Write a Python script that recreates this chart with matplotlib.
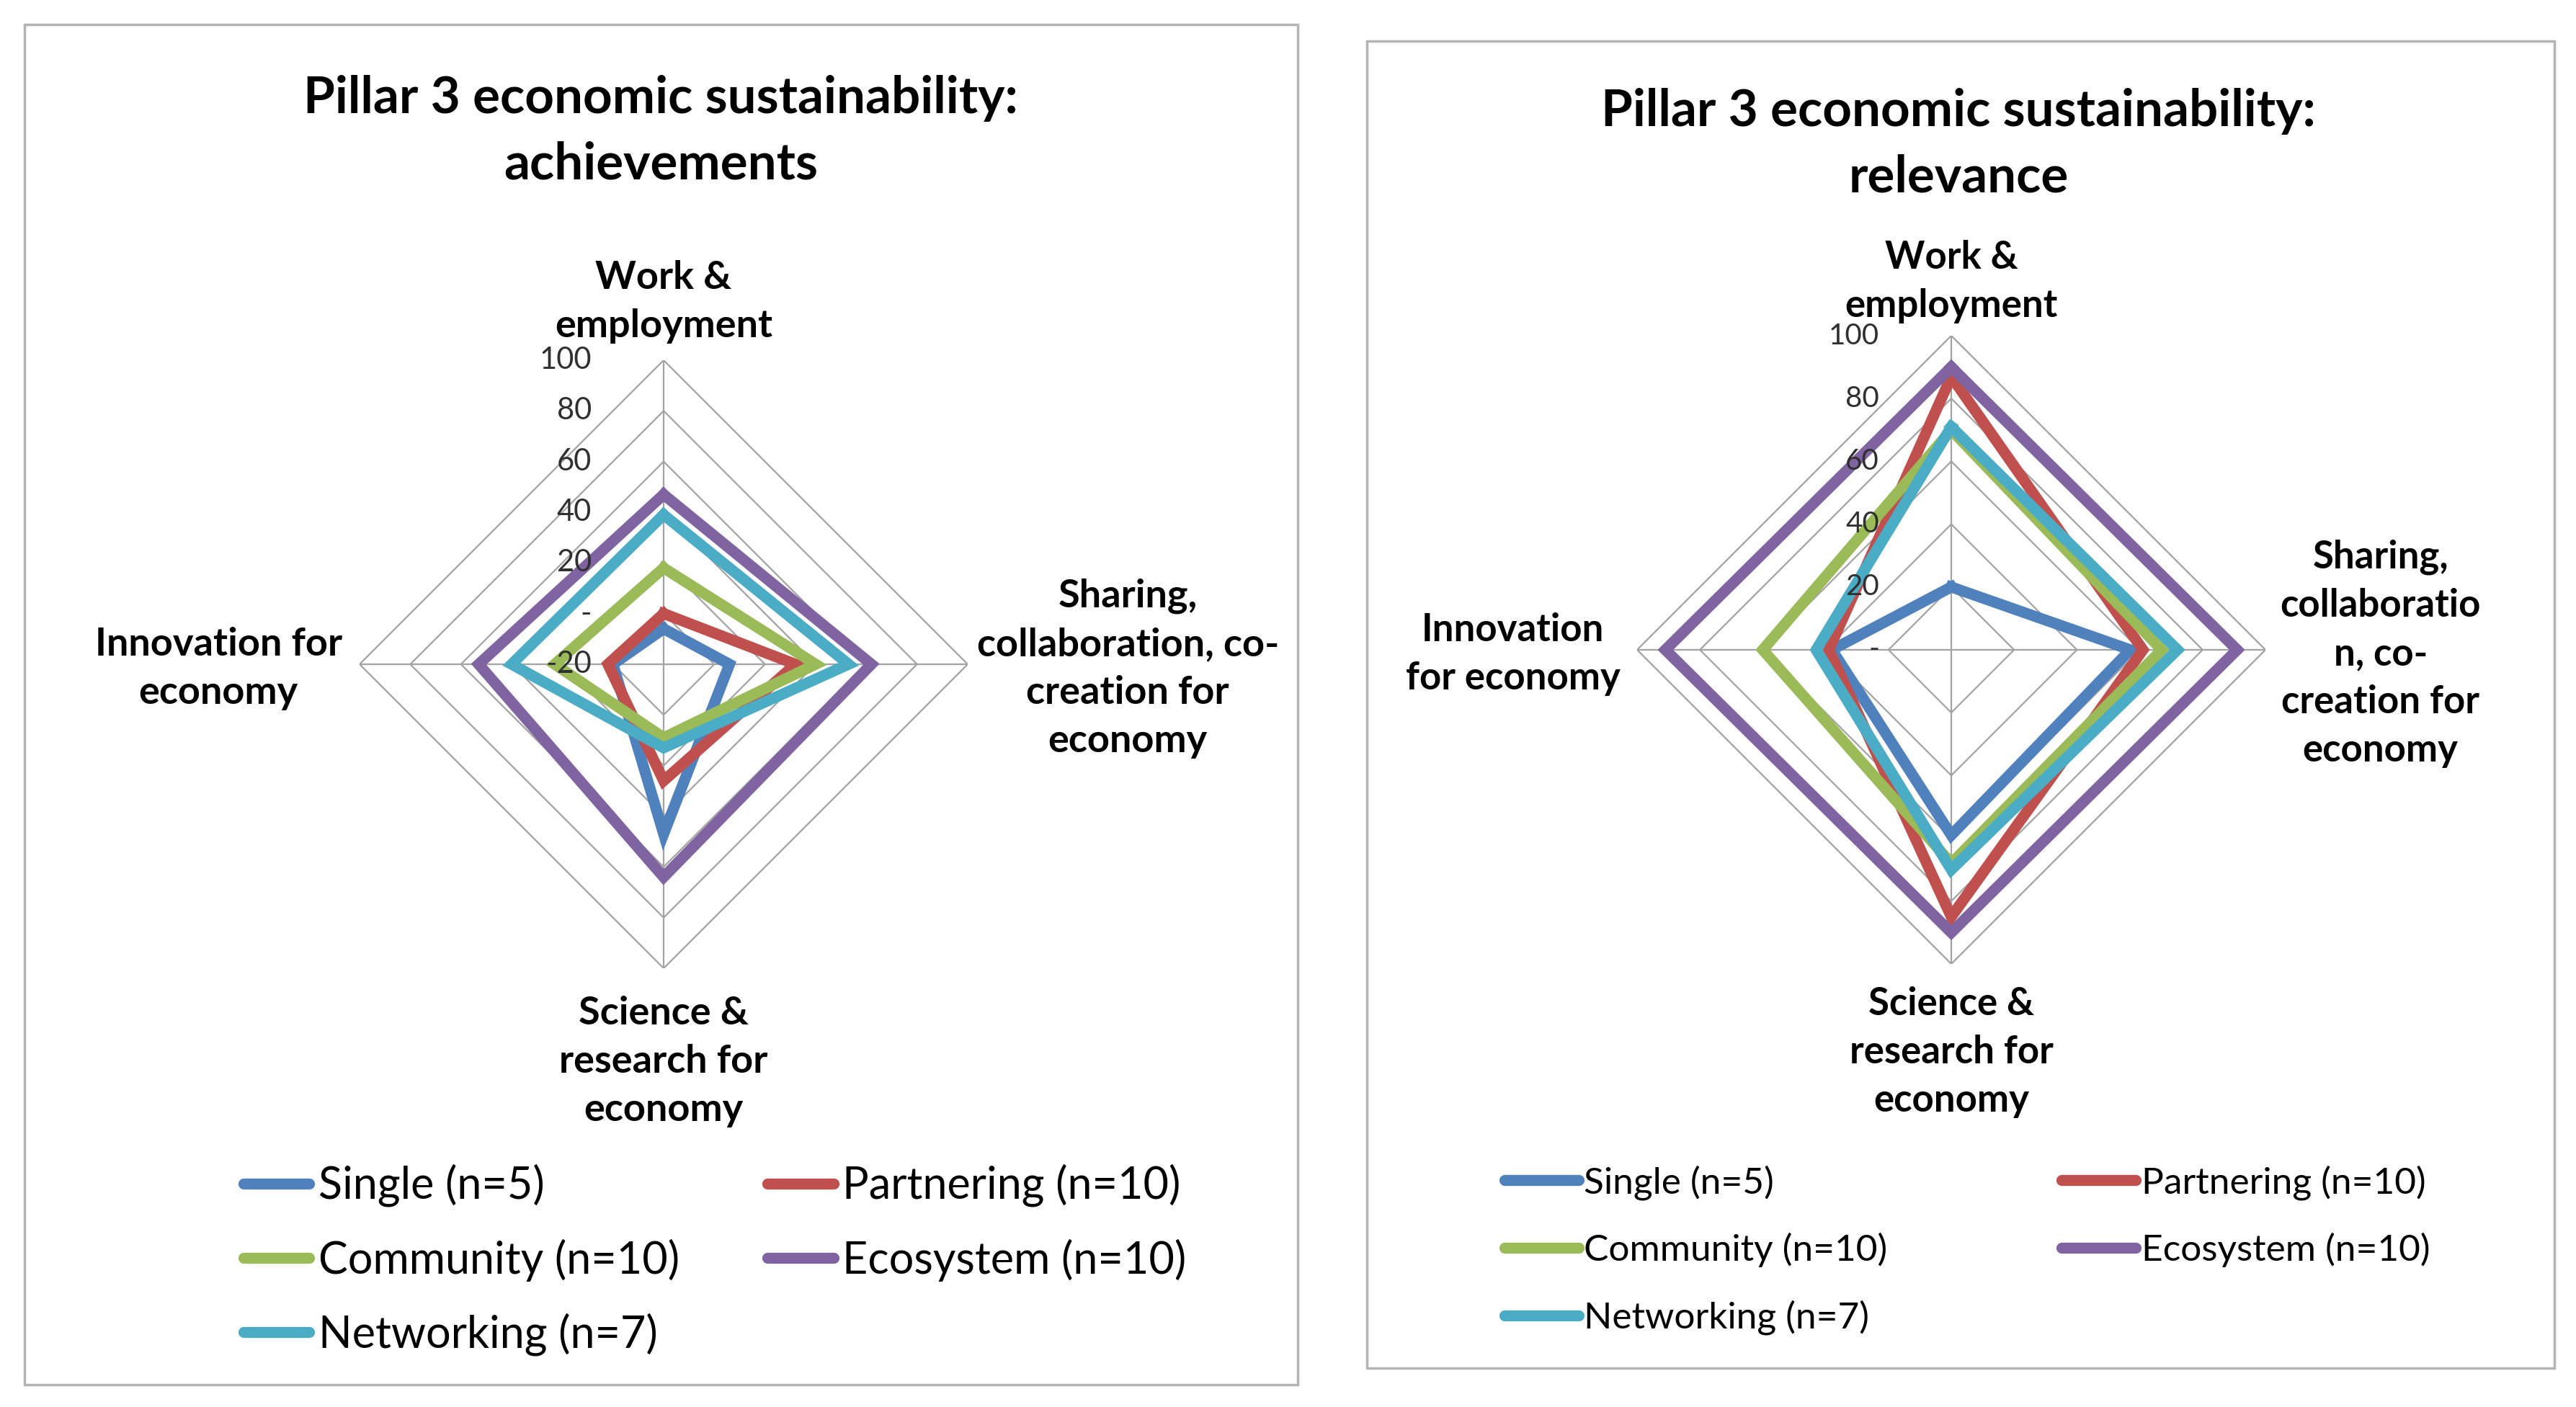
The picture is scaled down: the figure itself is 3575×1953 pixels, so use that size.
import numpy as np
import matplotlib
matplotlib.use("Agg")
import matplotlib.pyplot as plt
from matplotlib.patches import Rectangle
from matplotlib.lines import Line2D

plt.rcParams["font.family"] = ["Lato", "DejaVu Sans"]

# series shared by both charts
series = ["Single (n=5)", "Partnering (n=10)", "Community (n=10)",
          "Ecosystem (n=10)", "Networking (n=7)"]
colors = ["#4F81BD", "#C0504D", "#9BBB59", "#8064A2", "#4BACC6"]

# spokes, clockwise from the top
ach_axes = ["Work &\nemployment",
            "Sharing,\ncollaboration, co-\ncreation for\neconomy",
            "Science &\nresearch for\neconomy",
            "Innovation for\neconomy"]
rel_axes = ["Work &\nemployment",
            "Sharing,\ncollaboratio\nn, co-\ncreation for\neconomy",
            "Science &\nresearch for\neconomy",
            "Innovation\nfor economy"]

# achievements (work, sharing, science, innovation)
ach_single = [-6, 6, 47, 0]
ach_partnering = [0, 32, 26, 2]
ach_community = [18, 40, 9, 23]
ach_ecosystem = [47, 62, 64, 53]
ach_networking = [39, 53, 13, 40]

# relevance (work, sharing, science, innovation)
rel_single = [20, 57, 59, 38]
rel_partnering = [87, 61, 85, 39]
rel_community = [70, 67, 68, 60]
rel_ecosystem = [90, 91, 90, 91]
rel_networking = [71, 72, 70, 43]

ach_ticks = [-20, 0, 20, 40, 60, 80, 100]
ach_ticklabels = ["-20", "-", "20", "40", "60", "80", "100"]
rel_ticks = [0, 20, 40, 60, 80, 100]
rel_ticklabels = ["-", "20", "40", "60", "80", "100"]

W, H = 3575, 1953
fig = plt.figure(figsize=(W / 100, H / 100), dpi=100)
fig.patch.set_facecolor("white")


def panel_box(x0, y0, x1, y1):
    # grey frame around each chart, given in pixels from top-left
    fig.add_artist(Rectangle((x0 / W, 1 - y1 / H), (x1 - x0) / W, (y1 - y0) / H,
                             transform=fig.transFigure, fill=False,
                             ec="#b4b4b4", lw=2.5))


def radar(cx, cy, r, data, labels, ticks, ticklabels, offsets, tick_fs, label_fs):
    ax = fig.add_axes([(cx - r) / W, 1 - (cy + r) / H, 2 * r / W, 2 * r / H],
                      projection="polar")
    ax.set_theta_zero_location("N")
    ax.set_theta_direction(-1)
    ax.set_ylim(ticks[0], ticks[-1])
    ax.grid(False)
    ax.set_xticks([])
    ax.set_yticks([])
    ax.spines["polar"].set_visible(False)
    ax.patch.set_alpha(0)

    theta = np.linspace(0, 2 * np.pi, len(labels), endpoint=False)
    closed = np.append(theta, theta[0])
    for t in ticks[1:]:
        ax.plot(closed, [t] * len(closed), color="#a3a3a3", lw=1.6, zorder=1)
    for th in theta:
        ax.plot([th, th], [ticks[0], ticks[-1]], color="#a3a3a3", lw=1.6, zorder=1)

    for vals, c in zip(data, colors):
        ax.plot(closed, list(vals) + [vals[0]], color=c, lw=11,
                solid_joinstyle="miter", zorder=3)

    for t, lbl in zip(ticks, ticklabels):
        ax.annotate(lbl, xy=(0, t), xytext=(-72, 0), textcoords="offset points",
                    ha="right", va="center", fontsize=tick_fs, color="#303030",
                    annotation_clip=False, zorder=4)

    for th, lbl, off in zip(theta, labels, offsets):
        ax.annotate(lbl, xy=(th, ticks[-1]), xytext=off, textcoords="offset points",
                    ha="center", va="center", multialignment="center",
                    fontsize=label_fs, fontweight="bold", color="black",
                    linespacing=1.45, annotation_clip=False)
    return ax


panel_box(34, 34, 1801, 1922)
panel_box(1897, 57, 3545, 1899)

radar(921, 922, 422,
      [ach_single, ach_partnering, ach_community, ach_ecosystem, ach_networking],
      ach_axes, ach_ticks, ach_ticklabels,
      [(0, 58), (160, -4), (0, -93), (-141, -4)], 30, 39)
radar(2708, 902, 436,
      [rel_single, rel_partnering, rel_community, rel_ecosystem, rel_networking],
      rel_axes, rel_ticks, rel_ticklabels,
      [(0, 54), (115, -4), (0, -88), (-124, -4)], 29, 38)

fig.text(917 / W, 1 - 182 / H, "Pillar 3 economic sustainability:\nachievements",
         ha="center", va="center", fontsize=51, fontweight="bold", linespacing=1.5)
fig.text(2718 / W, 1 - 200 / H, "Pillar 3 economic sustainability:\nrelevance",
         ha="center", va="center", fontsize=51, fontweight="bold", linespacing=1.5)

# legend rows go Single/Partnering, Community/Ecosystem, Networking
order = [0, 2, 4, 1, 3]
handles = [Line2D([], [], color=colors[i], lw=11, solid_capstyle="round") for i in order]
names = [series[i] for i in order]

fig.legend(handles, names, loc="center", bbox_to_anchor=(992 / W, 1 - 1749 / H),
           ncol=2, frameon=False, fontsize=44, handlelength=1.5, handletextpad=0.2,
           columnspacing=2.0, labelspacing=0.72)
fig.legend(handles, names, loc="center", bbox_to_anchor=(2730 / W, 1 - 1735 / H),
           ncol=2, frameon=False, fontsize=37, handlelength=2.0, handletextpad=0.15,
           columnspacing=4.7, labelspacing=0.88)

fig.savefig("out.png", dpi=100)
